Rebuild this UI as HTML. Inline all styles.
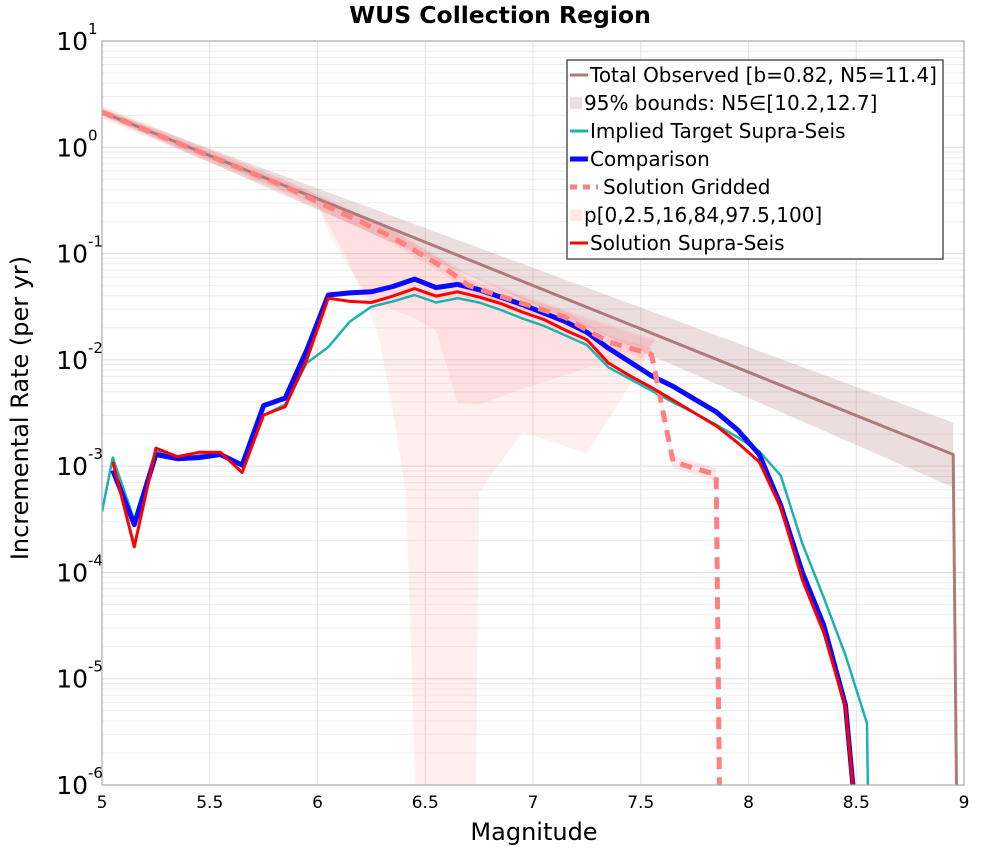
<!DOCTYPE html>
<html><head><meta charset="utf-8"><style>
html,body{margin:0;padding:0;background:#fff;}
svg{display:block;font-family:"DejaVu Sans","Liberation Sans",sans-serif;}
</style></head><body>
<svg id="chart" width="1000" height="850" viewBox="0 0 1000 850" xmlns="http://www.w3.org/2000/svg">
<defs><clipPath id="clip"><rect x="102" y="41" width="862" height="744"/></clipPath></defs>
<text x="500" y="23" text-anchor="middle" font-size="23.5" font-weight="bold">WUS Collection Region</text>
<g id="grid"></g>
<g id="bands" clip-path="url(#clip)"></g>
<g id="lines" clip-path="url(#clip)"></g>
<rect x="102" y="41" width="862" height="744" fill="none" stroke="#aaa" stroke-width="1.2"/>
<g id="ticks"></g>
<text x="534" y="840" text-anchor="middle" font-size="24">Magnitude</text>
<text transform="translate(28,408) rotate(-90)" text-anchor="middle" font-size="24">Incremental Rate (per yr)</text>
<g id="legend">
<rect x="567" y="60" width="376" height="199" fill="#fff" stroke="#555" stroke-width="1.5"/>
</g>
</svg>
<script>
// ---- data (magnitude, log10 rate) ----
const xTicks = [5, 5.5, 6, 6.5, 7, 7.5, 8, 8.5, 9];
const xTickLabels = ["5","5.5","6","6.5","7","7.5","8","8.5","9"];
const yTickExps = [1, 0, -1, -2, -3, -4, -5, -6];
const totalObs = [[5.0,0.33],[8.95,-2.89],[8.97,-7]];
const totalBandUpper = [[5.0,0.36],[8.95,-2.59]];
const totalBandLower = [[5.0,0.30],[8.95,-3.2]];
const cyanSeries = [[5.0,-3.43],[5.05,-2.92],[5.15,-3.51],[5.25,-2.85],[5.35,-2.93],[5.45,-2.90],[5.55,-2.88],[5.65,-3.0],[5.75,-2.52],[5.85,-2.42],[5.95,-2.03],[6.05,-1.88],[6.15,-1.64],[6.25,-1.50],[6.35,-1.45],[6.45,-1.39],[6.55,-1.46],[6.65,-1.42],[6.75,-1.46],[6.85,-1.53],[6.95,-1.61],[7.05,-1.68],[7.15,-1.77],[7.25,-1.86],[7.35,-2.07],[7.45,-2.18],[7.55,-2.29],[7.65,-2.40],[7.75,-2.50],[7.85,-2.61],[7.95,-2.73],[8.05,-2.86],[8.15,-3.09],[8.25,-3.73],[8.35,-4.24],[8.45,-4.78],[8.55,-5.42],[8.56,-7]];
const blueSeries = [[5.05,-3.04],[5.15,-3.55],[5.25,-2.89],[5.35,-2.93],[5.45,-2.92],[5.55,-2.89],[5.65,-2.99],[5.75,-2.43],[5.85,-2.36],[5.95,-1.91],[6.05,-1.39],[6.15,-1.37],[6.25,-1.36],[6.35,-1.31],[6.45,-1.24],[6.55,-1.32],[6.65,-1.29],[6.75,-1.34],[6.85,-1.41],[6.95,-1.48],[7.05,-1.56],[7.15,-1.64],[7.25,-1.74],[7.35,-1.89],[7.45,-2.02],[7.55,-2.15],[7.65,-2.25],[7.75,-2.37],[7.85,-2.49],[7.95,-2.66],[8.05,-2.89],[8.15,-3.37],[8.25,-4.0],[8.35,-4.5],[8.45,-5.25],[8.53,-7]];
const redSeries = [[5.05,-2.96],[5.15,-3.76],[5.25,-2.83],[5.35,-2.91],[5.45,-2.87],[5.55,-2.87],[5.65,-3.06],[5.75,-2.52],[5.85,-2.44],[5.95,-2.0],[6.05,-1.42],[6.15,-1.45],[6.25,-1.46],[6.35,-1.40],[6.45,-1.33],[6.55,-1.40],[6.65,-1.36],[6.75,-1.41],[6.85,-1.47],[6.95,-1.55],[7.05,-1.62],[7.15,-1.72],[7.25,-1.81],[7.35,-2.03],[7.45,-2.15],[7.55,-2.26],[7.65,-2.38],[7.75,-2.50],[7.85,-2.62],[7.95,-2.78],[8.05,-2.96],[8.15,-3.39],[8.25,-4.07],[8.35,-4.57],[8.45,-5.27],[8.53,-7]];
const griddedSeries = [[5.0,0.33],[5.85,-0.37],[6.05,-0.56],[6.2,-0.70],[6.35,-0.85],[6.5,-1.03],[6.6,-1.15],[6.7,-1.30],[6.85,-1.40],[7.0,-1.50],[7.15,-1.60],[7.25,-1.72],[7.35,-1.83],[7.55,-1.95],[7.65,-2.96],[7.85,-3.08],[7.87,-7]];
const outerBand = [[5.0,0.37],[6.0,-0.43],[6.38,-0.80],[6.71,-1.20],[7.08,-1.48],[7.36,-1.67],[7.57,-1.80],[7.5,-2.07],[7.25,-2.88],[6.95,-2.68],[6.75,-3.25],[6.73,-7],[6.47,-7],[6.41,-3.25],[6.35,-2.47],[6.28,-1.75],[6.14,-1.06],[6.0,-0.54],[5.0,0.30]];
const middleBand = [[5.0,0.36],[6.0,-0.45],[6.38,-0.82],[6.71,-1.22],[7.08,-1.50],[7.36,-1.69],[7.56,-1.82],[7.5,-2.0],[7.26,-2.07],[6.94,-2.28],[6.75,-2.42],[6.65,-2.41],[6.55,-1.72],[6.44,-1.60],[6.24,-1.44],[6.06,-0.84],[6.0,-0.54],[5.0,0.30]];

// ---- axes ----
const X0=102, X1=964, Y0=41, Y1=785;
const xs = m => X0 + (m-5)/(9-5)*(X1-X0);
const ys = l => Y0 + (1-l)/(1-(-6))*(Y1-Y0);
const NS="http://www.w3.org/2000/svg";
function mk(tag, attrs, parent){const e=document.createElementNS(NS,tag);for(const k in attrs)e.setAttribute(k,attrs[k]);parent.appendChild(e);return e;}
const pts = arr => arr.map(p=>xs(p[0]).toFixed(1)+","+ys(p[1]).toFixed(1)).join(" ");

const grid=document.getElementById('grid');
for(let d=-6; d<1; d++){
  for(let k=2;k<=9;k++){
    const y=ys(d+Math.log10(k));
    const g=mk('line',{x1:X0,x2:X1,y1:y,y2:y,stroke:'#ececec','stroke-width':1},grid);
    
    
  }
}
yTickExps.forEach(e=>{const y=ys(e);const g=mk('line',{x1:X0,x2:X1,y1:y,y2:y,stroke:'#dcdcdc','stroke-width':1},grid);
  
  });
xTicks.forEach(m=>{const x=xs(m);const g=mk('line',{x1:x,x2:x,y1:Y0,y2:Y1,stroke:'#e2e2e2','stroke-width':1},grid);
  
  });

const ticks=document.getElementById('ticks');
xTicks.forEach((m,i)=>{const t=mk('text',{x:xs(m),y:808,'text-anchor':'middle','font-size':17},ticks);t.textContent=xTickLabels[i];
  
  });
yTickExps.forEach(e=>{const y=ys(e);
  const t=mk('text',{x:88,y:y+9,'text-anchor':'end','font-size':25},ticks);t.textContent="10";
  
  
  const s=mk('text',{x:88,y:y-7,'text-anchor':'start','font-size':15},ticks);s.textContent=String(e);
  
  });

// ---- bands ----
const bands=document.getElementById('bands');
const tb=mk('polygon',{points:pts(totalBandUpper.concat(totalBandLower.slice().reverse())),fill:'rgba(160,90,95,0.2)'},bands);


const ob=mk('polygon',{points:pts(outerBand),fill:'rgba(255,110,110,0.11)'},bands);


const mb=mk('polygon',{points:pts(middleBand),fill:'rgba(255,110,110,0.11)'},bands);


const gi=griddedSeries.slice(0,griddedSeries.length-1);
const ib=mk('polygon',{points:pts(gi.map(p=>[p[0],p[1]+0.06]).concat(gi.map(p=>[p[0],p[1]-0.06]).reverse())),fill:'rgba(255,110,110,0.15)'},bands);



// ---- lines ----
const lines=document.getElementById('lines');
function line(arr,color,w,name,dash){const a={points:pts(arr),fill:'none',stroke:color,'stroke-width':w,'stroke-linejoin':'round'};if(dash)a['stroke-dasharray']=dash;const p=mk('polyline',a,lines);
  
  }
line(totalObs,'#b07a7a',3,'total-observed-line');
line(cyanSeries,'#1ab3b3',2.5,'implied-target-supra-seis-line');
line(blueSeries,'#0a0aff',5,'comparison-line');
line(griddedSeries,'#ff8080',5,'solution-gridded-line','12,8');
line(redSeries,'#ff0000',3,'solution-supra-seis-line');

// ---- legend ----
const leg=document.getElementById('legend');
const entries=[
 ['Total Observed [b=0.82, N5=11.4]','line','#b07a7a',3],
 ['95% bounds: N5\u2208[10.2,12.7]','box','rgba(160,90,95,0.2)'],
 ['Implied Target Supra-Seis','line','#1ab3b3',3],
 ['Comparison','line','#0a0aff',5],
 ['Solution Gridded','dash','#ff8080',5],
 ['p[0,2.5,16,84,97.5,100]','box','rgba(255,110,110,0.15)'],
 ['Solution Supra-Seis','line','#ff0000',3]];
entries.forEach((e,i)=>{const y=75+i*28;
  let tx=590;
  if(e[1]==='line'){const l=mk('line',{x1:570,x2:588,y1:y,y2:y,stroke:e[2],'stroke-width':e[3]},leg);
    
    }
  else if(e[1]==='dash'){const l=mk('line',{x1:570,x2:598,y1:y,y2:y,stroke:e[2],'stroke-width':e[3],'stroke-dasharray':'7,6'},leg);tx=603;
    
    }
  else {const r=mk('rect',{x:570,y:y-6,width:12,height:12,fill:e[2]},leg);tx=584;
    
    }
  const t=mk('text',{x:tx,y:y+7,'font-size':20},leg);t.textContent=e[0];
  
  
});
</script>
</body></html>
